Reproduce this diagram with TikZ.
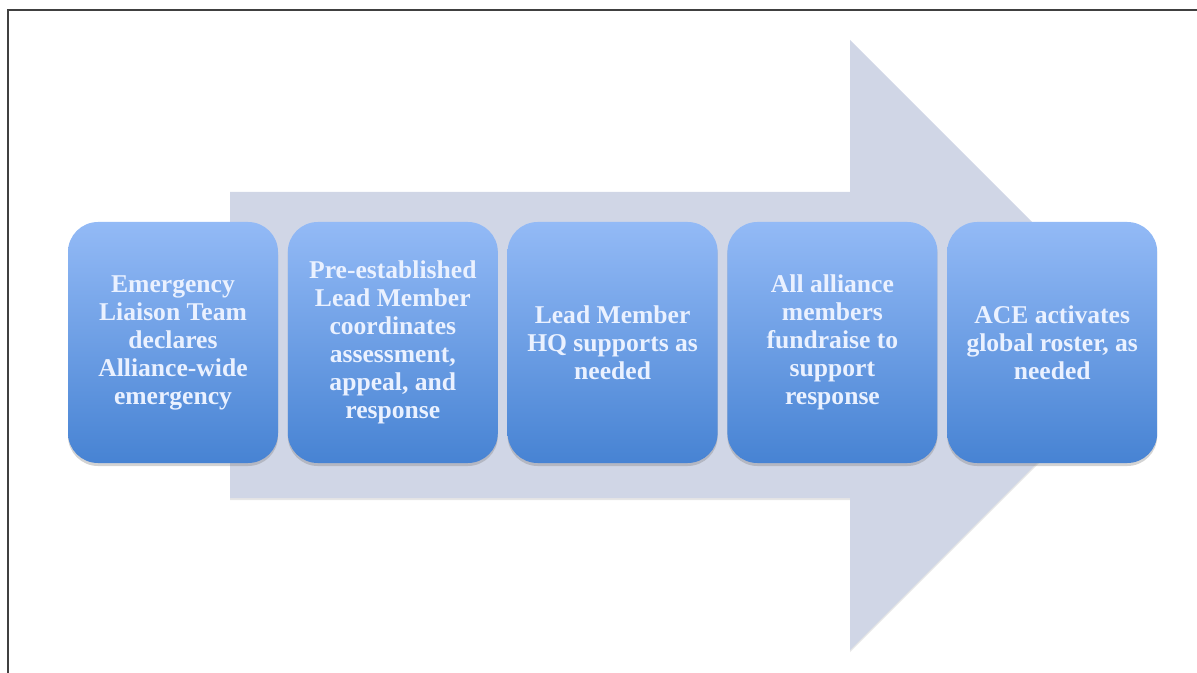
\documentclass[tikz,border=0pt]{standalone}
\usepackage{fontspec}
\setmainfont{Liberation Serif}
\usetikzlibrary{positioning,shadows}
\definecolor{arrowgray}{HTML}{D0D6E6}
\definecolor{boxtop}{HTML}{93BAF6}
\definecolor{boxbottom}{HTML}{4783D3}
\definecolor{boxtext}{HTML}{EAF1FF}
\tikzset{
	frame/.style={
		% The border:
		line width=1.2pt,
		draw=black!75,
	}}
\tikzset{
	stepbox/.style={
		% The shape:
		shape=rectangle,rounded corners=15pt,
		% The size:
		minimum width=105pt,minimum height=120.5pt,
		inner sep=2pt,
		% The filling:
		top color=boxtop, % lighter at the top...
		bottom color=boxbottom, % and darker at the bottom
		drop shadow={opacity=0.35,shadow xshift=0pt,shadow yshift=-1.5pt},
		% The text:
		align=center,text=boxtext,
		font=\bfseries\fontsize{12.8}{14}\selectfont,
	}}

\begin{document}
\begin{tikzpicture}[x=0.5pt,y=-0.5pt,node distance=4.5pt]
	\useasboundingbox (0,0) rectangle (1197,673);
	\draw[frame] (1197,10) -- (8,10) -- (8,673);
	% the big arrow behind the steps
	\fill[arrowgray,drop shadow={opacity=0.2,shadow xshift=0pt,shadow yshift=-1pt}]
		(230,192) -- (850,192) -- (850,40) -- (1155,345) -- (850,650) -- (850,498) -- (230,498) -- cycle;
	\node[stepbox] (elt) at (173,342.5) {Emergency\\Liaison Team\\declares\\Alliance-wide\\emergency};
	\node[stepbox,right=of elt] (lead) {Pre-established\\Lead Member\\coordinates\\assessment,\\appeal, and\\response};
	\node[stepbox,right=of lead] (hq) {Lead Member\\HQ supports as\\needed};
	\node[stepbox,right=of hq] (fund) {All alliance\\members\\fundraise to\\support\\response};
	\node[stepbox,right=of fund] (ace) {ACE activates\\global roster, as\\needed};
\end{tikzpicture}
\end{document}
